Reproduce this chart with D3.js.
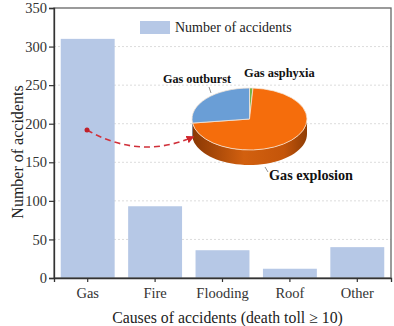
<!DOCTYPE html>
<html>
<head>
<meta charset="utf-8">
<script src="https://cdnjs.cloudflare.com/ajax/libs/d3/7.9.0/d3.min.js"></script>
<style>
  body { margin: 0; background: #fff; }
  text { font-family: "Liberation Serif", "Times New Roman", serif; }
</style>
</head>
<body>
<div class="canvas"></div>
<script>
// bar data
const causes = ["Gas", "Fire", "Flooding", "Roof", "Other"];
const accidents = [310, 93, 36, 12, 40];
const yTicks = [0, 50, 100, 150, 200, 250, 300, 350];

// gas accident breakdown (pie)
const gasTypes = ["Gas asphyxia", "Gas explosion", "Gas outburst"];
const gasCounts = [3, 223, 84];
const gasColors = ["#74b648", "#f56d0c", "#6a9ed6"];

const width = 394, height = 326;
const margin = { top: 8, right: 3, bottom: 48, left: 54 };

const svg = d3.select(".canvas").append("svg")
  .attr("width", width)
  .attr("height", height);

const x = d3.scaleBand()
  .domain(causes)
  .range([margin.left, width - margin.right])
  .paddingInner(0.2)
  .paddingOuter(0.1);

const y = d3.scaleLinear()
  .domain([0, 350])
  .range([height - margin.bottom, margin.top]);

// grid
svg.append("g")
  .selectAll("line")
  .data(yTicks.slice(1, -1))
  .join("line")
  .attr("x1", margin.left).attr("x2", width - margin.right)
  .attr("y1", d => y(d)).attr("y2", d => y(d))
  .attr("stroke", "#dcdcdc")
  .attr("stroke-dasharray", "2,2");

// bars
svg.append("g")
  .selectAll("rect")
  .data(causes)
  .join("rect")
  .attr("x", d => x(d))
  .attr("y", (d, i) => y(accidents[i]))
  .attr("width", x.bandwidth())
  .attr("height", (d, i) => y(0) - y(accidents[i]))
  .attr("fill", "#b6c8e6");

// frame
svg.append("rect")
  .attr("x", margin.left).attr("y", margin.top)
  .attr("width", width - margin.right - margin.left)
  .attr("height", y(0) - margin.top)
  .attr("fill", "none")
  .attr("stroke", "#666")
  .attr("stroke-width", 1.3);

const yAxis = svg.append("g")
  .attr("transform", `translate(${margin.left},0)`)
  .call(d3.axisLeft(y).tickValues(yTicks).tickSize(5).tickPadding(2));
const xAxis = svg.append("g")
  .attr("transform", `translate(0,${y(0)})`)
  .call(d3.axisBottom(x).tickSize(4).tickPadding(6));

[yAxis, xAxis].forEach(g => {
  g.select(".domain").attr("stroke", "#333").attr("stroke-width", 1.3);
  g.selectAll(".tick line").attr("stroke", "#333").attr("stroke-width", 1.2);
  g.selectAll(".tick text")
    .attr("font-family", "Liberation Serif")
    .attr("font-size", 14.5)
    .attr("fill", "#333");
});

// axis titles
svg.append("text")
  .attr("x", 227.5)
  .attr("y", 323)
  .attr("text-anchor", "middle")
  .attr("font-size", 15.8)
  .attr("fill", "#222")
  .text("Causes of accidents (death toll \u2265 10)");

svg.append("text")
  .attr("transform", "translate(23,152) rotate(-90)")
  .attr("text-anchor", "middle")
  .attr("font-size", 16)
  .attr("fill", "#222")
  .text("Number of accidents");

// legend
svg.append("rect")
  .attr("x", 140).attr("y", 21)
  .attr("width", 30).attr("height", 13)
  .attr("fill", "#b6c8e6");
svg.append("text")
  .attr("x", 175).attr("y", 32)
  .attr("font-size", 14)
  .attr("fill", "#222")
  .text("Number of accidents");

// 3D pie
const cx = 249.5, cy = 119, rx = 57.5, ry = 31, depth = 15;
const pie = d3.pie().sort(null)(gasCounts);

const defs = svg.append("defs");
const grad = defs.append("linearGradient")
  .attr("id", "side").attr("x1", "0").attr("x2", "1").attr("y1", "0").attr("y2", "0");
grad.append("stop").attr("offset", "0").attr("stop-color", "#8a3804");
grad.append("stop").attr("offset", "0.45").attr("stop-color", "#d2600f");
grad.append("stop").attr("offset", "0.8").attr("stop-color", "#c4550a");
grad.append("stop").attr("offset", "1").attr("stop-color", "#8f3d05");

const ept = (a, dy) => [cx + rx * Math.sin(a), cy - ry * Math.cos(a) + dy];

const pieG = svg.append("g");
pie.forEach((s, i) => {
  const a0 = Math.max(s.startAngle, Math.PI / 2);
  const a1 = Math.min(s.endAngle, 3 * Math.PI / 2);
  if (a1 <= a0) return;
  const n = 40, pts = [];
  for (let k = 0; k <= n; k++) pts.push(ept(a0 + (a1 - a0) * k / n, 0));
  for (let k = n; k >= 0; k--) pts.push(ept(a0 + (a1 - a0) * k / n, depth));
  pieG.append("path")
    .attr("d", d3.line()(pts) + "Z")
    .attr("fill", i === 1 ? "url(#side)" : d3.color(gasColors[i]).darker(1));
});

const arc = d3.arc().innerRadius(0).outerRadius(rx);
pieG.append("g")
  .attr("transform", `translate(${cx},${cy}) scale(1,${ry / rx})`)
  .selectAll("path")
  .data(pie)
  .join("path")
  .attr("d", arc)
  .attr("fill", (d, i) => gasColors[i])
  .attr("stroke", "#f4e6d8")
  .attr("stroke-width", 1);

// pie labels
const lab = svg.append("g").attr("font-weight", "bold").attr("fill", "#111");
lab.append("text").attr("x", 163).attr("y", 83).attr("font-size", 12.2).text(gasTypes[2]);
lab.append("text").attr("x", 244).attr("y", 77).attr("font-size", 12.4).text(gasTypes[0]);
lab.append("text").attr("x", 269).attr("y", 180).attr("font-size", 14.2).text(gasTypes[1]);
svg.append("line").attr("x1", 209).attr("y1", 87).attr("x2", 211).attr("y2", 93)
  .attr("stroke", "#777").attr("stroke-width", 0.8);
svg.append("line").attr("x1", 265).attr("y1", 167).attr("x2", 268).attr("y2", 172)
  .attr("stroke", "#777").attr("stroke-width", 0.8);

// dashed arrow from Gas bar to pie
defs.append("marker")
  .attr("id", "arrow").attr("viewBox", "0 0 10 10")
  .attr("refX", 8).attr("refY", 5)
  .attr("markerWidth", 5).attr("markerHeight", 5)
  .attr("orient", "auto")
  .append("path").attr("d", "M0,0L10,5L0,10Z").attr("fill", "#d0262b");

svg.append("path")
  .attr("d", "M87,130 Q140,160 193,137")
  .attr("fill", "none")
  .attr("stroke", "#d0303a")
  .attr("stroke-width", 1.6)
  .attr("stroke-dasharray", "6,4")
  .attr("marker-end", "url(#arrow)");
svg.append("circle").attr("cx", 87).attr("cy", 130).attr("r", 2.5).attr("fill", "#c0202a");
</script>
</body>
</html>
